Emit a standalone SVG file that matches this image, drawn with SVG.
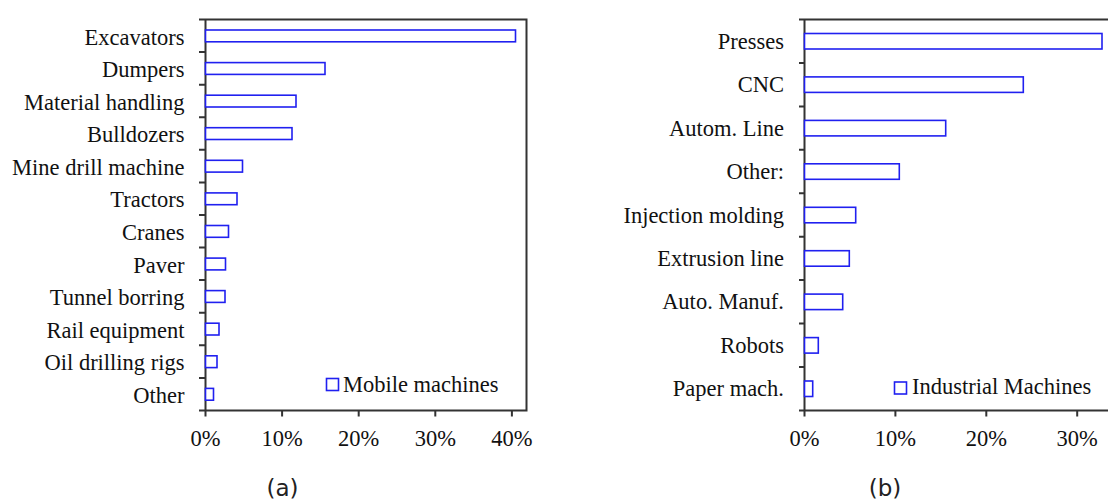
<svg xmlns="http://www.w3.org/2000/svg" width="1108" height="503" viewBox="0 0 1108 503">
<style>
text{font-family:"Liberation Serif","Times New Roman",serif;font-size:22.5px;fill:#111}
.lab{text-anchor:end}
.tk{text-anchor:middle}
.cap{font-family:"DejaVu Sans","Liberation Sans",sans-serif;font-size:23px;text-anchor:middle;fill:#222}
.ax{stroke:#333;stroke-width:2;fill:none}
.bar{fill:#fff;stroke:#2020f0;stroke-width:1.6}
</style>
<rect width="1108" height="503" fill="#fff"/>
<g id="chart-a">
<g id="axes-a">
<path class="ax" d="M205.5,19.5 V410.5 M199,19.5 H526.5 V410.5 H199"/>
<path class="ax" d="M199,52.1H205.5M199,84.7H205.5M199,117.2H205.5M199,149.8H205.5M199,182.4H205.5M199,215H205.5M199,247.6H205.5M199,280.1H205.5M199,312.7H205.5M199,345.3H205.5M199,377.9H205.5"/>
<path class="ax" d="M205.5,410.5V416.5M282.1,410.5V416.5M358.7,410.5V416.5M435.3,410.5V416.5M511.9,410.5V416.5"/>
</g>
<g id="bars-a">
<rect class="bar" x="205.5" y="30" width="310" height="11.8"/>
<rect class="bar" x="205.5" y="62.6" width="119.5" height="11.8"/>
<rect class="bar" x="205.5" y="95.2" width="90.5" height="11.8"/>
<rect class="bar" x="205.5" y="127.7" width="86.5" height="11.8"/>
<rect class="bar" x="205.5" y="160.3" width="37" height="11.8"/>
<rect class="bar" x="205.5" y="192.9" width="31.5" height="11.8"/>
<rect class="bar" x="205.5" y="225.5" width="23" height="11.8"/>
<rect class="bar" x="205.5" y="258.1" width="20" height="11.8"/>
<rect class="bar" x="205.5" y="290.6" width="19.5" height="11.8"/>
<rect class="bar" x="205.5" y="323.2" width="13.5" height="11.8"/>
<rect class="bar" x="205.5" y="355.8" width="11.5" height="11.8"/>
<rect class="bar" x="205.5" y="388.4" width="8" height="11.8"/>
</g>
<g id="labels-a">
<text class="lab" x="184.5" y="44.5">Excavators</text>
<text class="lab" x="184.5" y="77.1">Dumpers</text>
<text class="lab" x="184.5" y="109.7">Material handling</text>
<text class="lab" x="184.5" y="142.2">Bulldozers</text>
<text class="lab" x="184.5" y="174.8">Mine drill machine</text>
<text class="lab" x="184.5" y="207.4">Tractors</text>
<text class="lab" x="184.5" y="240">Cranes</text>
<text class="lab" x="184.5" y="272.6">Paver</text>
<text class="lab" x="184.5" y="305.1">Tunnel borring</text>
<text class="lab" x="184.5" y="337.7">Rail equipment</text>
<text class="lab" x="184.5" y="370.3">Oil drilling rigs</text>
<text class="lab" x="184.5" y="402.9">Other</text>
<text class="tk" x="205.5" y="446">0%</text>
<text class="tk" x="282.1" y="446">10%</text>
<text class="tk" x="358.7" y="446">20%</text>
<text class="tk" x="435.3" y="446">30%</text>
<text class="tk" x="511.9" y="446">40%</text>
</g>
<g id="legend-a">
<rect class="bar" x="326.5" y="378.5" width="12" height="12"/>
<text x="343" y="391.5">Mobile machines</text>
</g>
<text class="cap" x="282.5" y="496">(a)</text>
</g>
<g id="chart-b">
<g id="axes-b">
<path class="ax" d="M804.5,19.5 V410.5 M799,19.5 H1108 M799,410.5 H1108"/>
<path class="ax" d="M799,62.9H804.5M799,106.4H804.5M799,149.8H804.5M799,193.3H804.5M799,236.7H804.5M799,280.1H804.5M799,323.6H804.5M799,367H804.5"/>
<path class="ax" d="M804.5,410.5V416.5M895.4,410.5V416.5M986.3,410.5V416.5M1077.2,410.5V416.5"/>
</g>
<g id="bars-b">
<rect class="bar" x="804.5" y="33.5" width="297.5" height="15.5"/>
<rect class="bar" x="804.5" y="76.9" width="218.8" height="15.5"/>
<rect class="bar" x="804.5" y="120.4" width="141.2" height="15.5"/>
<rect class="bar" x="804.5" y="163.8" width="94.8" height="15.5"/>
<rect class="bar" x="804.5" y="207.3" width="51.2" height="15.5"/>
<rect class="bar" x="804.5" y="250.7" width="44.8" height="15.5"/>
<rect class="bar" x="804.5" y="294.1" width="38.2" height="15.5"/>
<rect class="bar" x="804.5" y="337.6" width="13.8" height="15.5"/>
<rect class="bar" x="804.5" y="381" width="8.2" height="15.5"/>
</g>
<g id="labels-b">
<text class="lab" x="784" y="48.7">Presses</text>
<text class="lab" x="784" y="92.1">CNC</text>
<text class="lab" x="784" y="135.6">Autom. Line</text>
<text class="lab" x="784" y="179">Other:</text>
<text class="lab" x="784" y="222.5">Injection molding</text>
<text class="lab" x="784" y="265.9">Extrusion line</text>
<text class="lab" x="784" y="309.3">Auto. Manuf.</text>
<text class="lab" x="784" y="352.8">Robots</text>
<text class="lab" x="784" y="396.2">Paper mach.</text>
<text class="tk" x="804.5" y="446">0%</text>
<text class="tk" x="895.4" y="446">10%</text>
<text class="tk" x="986.3" y="446">20%</text>
<text class="tk" x="1077.2" y="446">30%</text>
</g>
<g id="legend-b">
<rect class="bar" x="894.5" y="382" width="12" height="12"/>
<text x="912" y="394">Industrial Machines</text>
</g>
<text class="cap" x="885" y="496">(b)</text>
</g>
</svg>
